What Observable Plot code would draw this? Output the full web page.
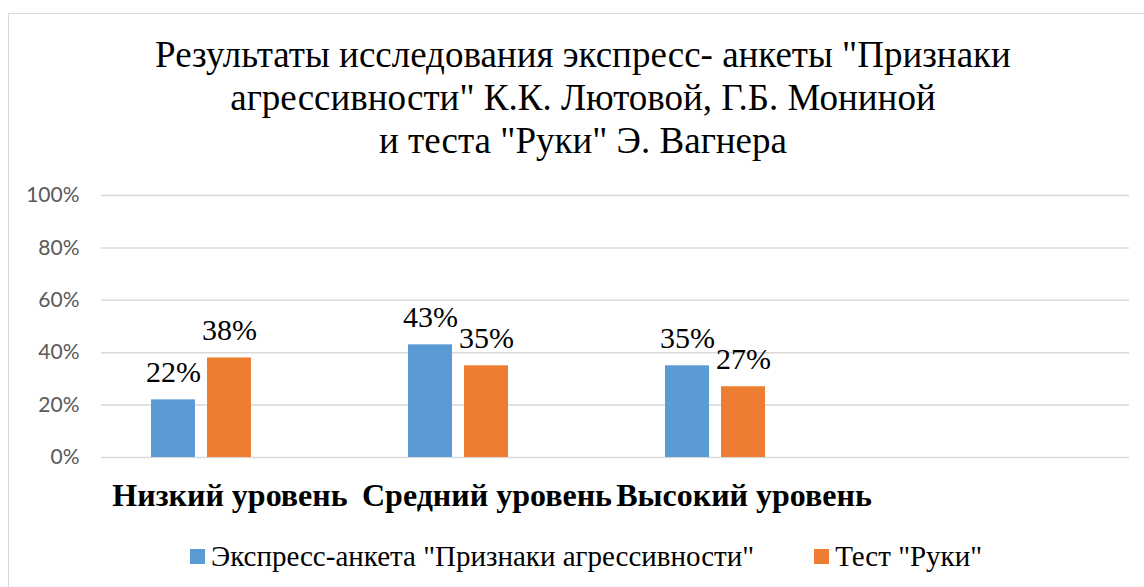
<!DOCTYPE html>
<html>
<head>
<meta charset="utf-8">
<script src="https://cdn.jsdelivr.net/npm/d3@7"></script>
<script src="https://cdn.jsdelivr.net/npm/@observablehq/plot@0.6"></script>
<style>
  html, body { margin: 0; padding: 0; background: #fff; }
  #wrap { position: relative; width: 1144px; height: 587px; overflow: hidden; background: #fff; }
  #frame { position: absolute; left: 8px; top: 13px; width: 1150px; height: 600px; border: 1px solid #d9d9d9; box-sizing: border-box; }
  #title { position: absolute; left: 22px; width: 1122px; top: 33px; text-align: center;
           font-family: 'Liberation Serif', serif; font-size: 37px; line-height: 43px; color: #000; }
  #chart { position: absolute; left: 0; top: 170px; }
  #legend { position: absolute; top: 542px; left: 190px; display: flex; align-items: center;
            font-family: 'Liberation Serif', serif; font-size: 29px; line-height: 28px; color: #000; }
  .item { display: flex; align-items: center; }
  .sw { width: 15px; height: 15px; margin-right: 6px; }
</style>
</head>
<body>
<div id="wrap">
  <div id="frame"></div>
  <div id="title">Результаты исследования экспресс- анкеты "Признаки<br>агрессивности" К.К. Лютовой, Г.Б. Мониной<br>и теста "Руки" Э. Вагнера</div>
  <div id="chart"></div>
  <div id="legend"></div>
</div>
<script>
const categories = ["Низкий уровень", "Средний уровень", "Высокий уровень"];
const emptyCategory = "";
const seriesNames = ['Экспресс-анкета "Признаки агрессивности"', 'Тест "Руки"'];
const expressValues = [22, 43, 35];
const testValues = [38, 35, 27];
const yTicks = [0, 20, 40, 60, 80, 100];
const colors = ["#5B9BD5", "#ED7D31"];

const allCats = [...categories, emptyCategory];

const data = [];
categories.forEach((c, i) => {
  data.push({cat: c, series: seriesNames[0], value: expressValues[i]});
  data.push({cat: c, series: seriesNames[1], value: testValues[i]});
});
const gridData = allCats.flatMap(c => yTicks.map(t => ({cat: c, tick: t})));

const serif = "'Liberation Serif', serif";

const plot = Plot.plot({
  width: 1144,
  height: 350,
  marginTop: 25,
  marginBottom: 63,
  marginLeft: 100,
  marginRight: 15,
  style: {background: "transparent", overflow: "visible"},
  fx: {domain: allCats, padding: 0, axis: null, label: null},
  x: {domain: seriesNames, paddingInner: 0.21, paddingOuter: 1.362, align: 0.322, axis: null},
  y: {domain: [0, 100], axis: null},
  color: {domain: seriesNames, range: colors},
  marks: [
    Plot.ruleY(gridData, {fx: "cat", y: "tick", stroke: "#d9d9d9", strokeWidth: 1.5}),
    Plot.axisY(yTicks, {
      tickSize: 0, tickPadding: 22, tickFormat: d => d + "%", label: null,
      fontSize: 21, fontFamily: "Lato, 'Liberation Sans', sans-serif", fill: "#595959"
    }),
    Plot.axisFx({
      anchor: "bottom", tickSize: 0, tickPadding: 26, label: null,
      fontSize: 32, fontWeight: "bold", fontFamily: serif, fill: "#000"
    }),
    Plot.barY(data, {fx: "cat", x: "series", y: "value", fill: "series"}),
    Plot.text(data, {
      fx: "cat", x: "series", y: "value", text: d => d.value + "%",
      lineAnchor: "bottom", dy: -18, fontSize: 30, fontFamily: serif, fill: "#000"
    })
  ]
});
document.getElementById("chart").appendChild(plot);

const legend = document.getElementById("legend");
seriesNames.forEach((s, i) => {
  const item = document.createElement("div");
  item.className = "item";
  if (i > 0) item.style.marginLeft = "60px";
  const sw = document.createElement("div");
  sw.className = "sw";
  sw.style.background = colors[i];
  const t = document.createElement("span");
  t.textContent = s;
  item.appendChild(sw);
  item.appendChild(t);
  legend.appendChild(item);
});
</script>
</body>
</html>
